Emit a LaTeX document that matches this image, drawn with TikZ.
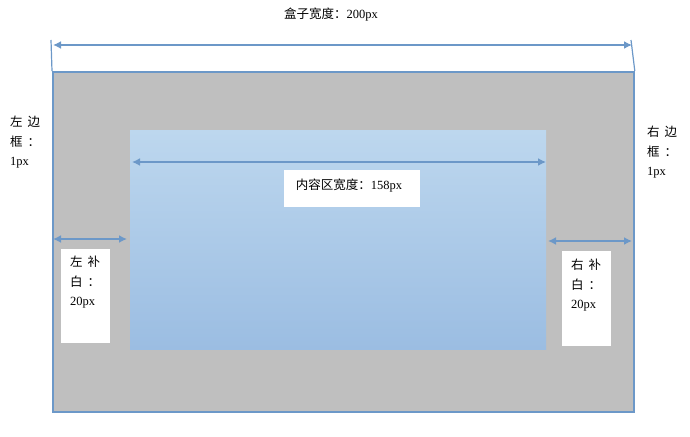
\documentclass[tikz,border=0pt]{standalone}
\usepackage{fontspec}
\setmainfont{Liberation Serif}
\newfontfamily\cjk{Noto Sans CJK SC}
\usetikzlibrary{arrows.meta}
\definecolor{bline}{HTML}{6C98C8}
\definecolor{boxgrey}{HTML}{BFBFBF}
\definecolor{ctop}{HTML}{BDD7EE}
\definecolor{cbot}{HTML}{9BBDE2}
\begin{document}
\begin{tikzpicture}[x=1pt,y=-1pt,
  dim/.style={draw=bline, line width=1.8pt, {Latex[length=8pt,width=8pt]}-{Latex[length=8pt,width=8pt]}},
  tick/.style={draw=bline, line width=1.2pt},
  lbl/.style={font=\fontsize{12.5}{19.5}\selectfont, align=left, inner sep=0pt, anchor=north west},
  whitebox/.style={fill=white, draw=none, inner sep=0pt, anchor=north west}
]
\useasboundingbox (0,0) rectangle (690,436);
% outer box
\node[draw=bline, line width=1.8pt, fill=boxgrey, inner sep=0pt, anchor=north west,
      minimum width=581pt, minimum height=340pt] (box) at (52,71) {};
% content area
\node[inner sep=0pt, anchor=north west, top color=ctop, bottom color=cbot, draw=none,
      minimum width=416pt, minimum height=219pt] (content) at (130,130) {};
% white label boxes
\node[whitebox, minimum width=136pt, minimum height=37pt] (clbox) at (284,170) {};
\node[whitebox, minimum width=49pt, minimum height=94pt] (lpbox) at (61,249) {};
\node[whitebox, minimum width=49pt, minimum height=95pt] (rpbox) at (562,251) {};
% title and top dimension
\node[font=\fontsize{12.5}{14}\selectfont, inner sep=0pt] (title) at (331,15) {{\cjk 盒子宽度：}200px};
\coordinate (tl) at (53,45);
\coordinate (tr) at (632,45);
\coordinate (tickl) at (51,40);
\coordinate (tickr) at (631,40);
\draw[tick] (tickl) -- (box.north west);
\draw[tick] (tickr) -- (box.north east);
\draw[dim] (tl) -- (tr);
% content width
\coordinate (cl) at (132,162);
\coordinate (cr) at (546,162);
\draw[dim] (cl) -- (cr);
\node[font=\fontsize{12.5}{14}\selectfont, inner sep=0pt] (ctext) at (349,186) {{\cjk 内容区宽度：}158px};
% paddings
\coordinate (lpa) at (53,239);
\coordinate (lpb) at (127,239);
\draw[dim] (lpa) -- (lpb);
\coordinate (rpa) at (548,241);
\coordinate (rpb) at (632,241);
\draw[dim] (rpa) -- (rpb);
\node[lbl] (lptext) at (70,256) {{\cjk 左\hspace{5pt}补}\\{\cjk 白\hspace{5pt}：}\\20px};
\node[lbl] (rptext) at (571,259) {{\cjk 右\hspace{5pt}补}\\{\cjk 白\hspace{5pt}：}\\20px};
% border labels
\node[lbl] (lbtext) at (10,116) {{\cjk 左\hspace{5pt}边}\\{\cjk 框\hspace{5pt}：}\\1px};
\node[lbl] (rbtext) at (647,126) {{\cjk 右\hspace{5pt}边}\\{\cjk 框\hspace{5pt}：}\\1px};
\end{tikzpicture}
\end{document}
